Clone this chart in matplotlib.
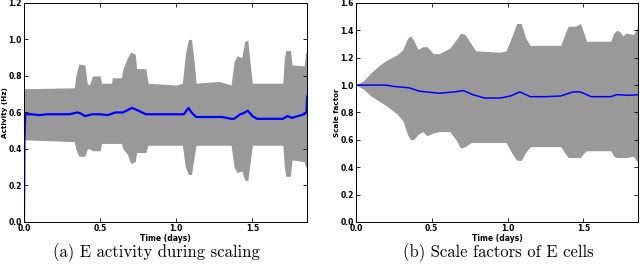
import matplotlib
matplotlib.use("Agg")
import matplotlib.pyplot as plt

# ---- Panel (a): E activity ----
a_env_t = [0.0, 0.33, 0.34, 0.36, 0.40, 0.415, 0.43, 0.45, 0.50, 0.51, 0.575, 0.58, 0.64, 0.65, 0.68, 0.70, 0.73,
           0.74, 0.80, 0.815, 1.0, 1.04, 1.06, 1.08, 1.10, 1.12, 1.13, 1.28, 1.36, 1.38, 1.40, 1.43, 1.45, 1.47,
           1.49, 1.50, 1.70, 1.71, 1.72, 1.75, 1.76, 1.84, 1.85, 1.86]
a_upper = [0.73, 0.735, 0.80, 0.865, 0.86, 0.76, 0.75, 0.80, 0.80, 0.76, 0.76, 0.79, 0.79, 0.84, 0.90, 0.93, 0.92,
           0.84, 0.84, 0.76, 0.75, 0.76, 0.92, 1.00, 1.00, 0.86, 0.76, 0.77, 0.75, 0.88, 0.91, 0.90, 0.99, 0.995,
           0.83, 0.76, 0.76, 0.90, 0.94, 0.94, 0.86, 0.855, 0.93, 0.93]
a_lower = [0.45, 0.44, 0.40, 0.36, 0.36, 0.40, 0.40, 0.39, 0.39, 0.43, 0.43, 0.43, 0.43, 0.40, 0.37, 0.32, 0.33,
           0.38, 0.38, 0.42, 0.42, 0.42, 0.30, 0.26, 0.26, 0.37, 0.42, 0.42, 0.42, 0.30, 0.27, 0.28, 0.23, 0.225,
           0.36, 0.42, 0.42, 0.30, 0.25, 0.25, 0.34, 0.33, 0.30, 0.30]

a_mean_t = [0.0, 0.003, 0.008, 0.05, 0.10, 0.15, 0.20, 0.25, 0.30, 0.35, 0.37, 0.40, 0.45, 0.50, 0.55, 0.60, 0.65,
            0.71, 0.75, 0.80, 0.90, 1.00, 1.05, 1.08, 1.10, 1.13, 1.20, 1.30, 1.36, 1.38, 1.42, 1.44, 1.47, 1.50,
            1.53, 1.60, 1.70, 1.73, 1.76, 1.80, 1.84, 1.855, 1.86]
a_mean = [0.0, 0.45, 0.59, 0.59, 0.585, 0.59, 0.59, 0.59, 0.59, 0.60, 0.595, 0.58, 0.59, 0.59, 0.585, 0.60, 0.60,
          0.625, 0.61, 0.59, 0.59, 0.59, 0.59, 0.625, 0.60, 0.575, 0.575, 0.575, 0.565, 0.565, 0.59, 0.595, 0.61,
          0.58, 0.565, 0.565, 0.565, 0.58, 0.57, 0.58, 0.59, 0.60, 0.69]

# ---- Panel (b): Scale factors ----
b_env_t = [0.0, 0.05, 0.10, 0.15, 0.20, 0.27, 0.31, 0.34, 0.36, 0.38, 0.41, 0.44, 0.47, 0.51, 0.55, 0.62, 0.66,
           0.69, 0.72, 0.76, 0.79, 0.95, 0.99, 1.03, 1.06, 1.09, 1.12, 1.15, 1.35, 1.38, 1.40, 1.45, 1.48, 1.50,
           1.52, 1.68, 1.70, 1.72, 1.74, 1.76, 1.78, 1.83, 1.86]
b_upper = [1.0, 1.03, 1.09, 1.14, 1.18, 1.22, 1.26, 1.34, 1.36, 1.33, 1.26, 1.28, 1.28, 1.23, 1.23, 1.27, 1.33,
           1.38, 1.37, 1.30, 1.25, 1.24, 1.25, 1.36, 1.45, 1.45, 1.34, 1.29, 1.29, 1.38, 1.43, 1.43, 1.45, 1.39,
           1.32, 1.32, 1.38, 1.40, 1.39, 1.36, 1.38, 1.37, 1.43]
b_lower = [1.0, 0.97, 0.92, 0.885, 0.85, 0.79, 0.74, 0.64, 0.60, 0.60, 0.64, 0.66, 0.63, 0.65, 0.66, 0.66, 0.60,
           0.54, 0.55, 0.58, 0.58, 0.58, 0.58, 0.50, 0.45, 0.45, 0.51, 0.55, 0.55, 0.50, 0.47, 0.47, 0.47, 0.50,
           0.52, 0.52, 0.48, 0.47, 0.47, 0.47, 0.47, 0.48, 0.43]

b_mean_t = [0.0, 0.20, 0.25, 0.30, 0.35, 0.42, 0.55, 0.65, 0.71, 0.77, 0.85, 0.95, 1.02, 1.08, 1.15, 1.25, 1.35,
            1.43, 1.48, 1.55, 1.68, 1.72, 1.80, 1.86]
b_mean = [1.0, 1.0, 0.99, 0.985, 0.98, 0.955, 0.94, 0.95, 0.96, 0.93, 0.905, 0.905, 0.92, 0.95, 0.915, 0.915,
          0.92, 0.95, 0.95, 0.915, 0.915, 0.93, 0.925, 0.93]

a_yticks = [0.0, 0.2, 0.4, 0.6, 0.8, 1.0, 1.2]
b_yticks = [0.0, 0.2, 0.4, 0.6, 0.8, 1.0, 1.2, 1.4, 1.6]
x_ticks = [0.0, 0.5, 1.0, 1.5]

GRAY = "#999999"
BLUE = "#0000ff"

fig = plt.figure(figsize=(6.4, 2.68), dpi=100)
ax1 = fig.add_axes([0.0375, 0.172, 0.4425, 0.817])
ax2 = fig.add_axes([0.556, 0.172, 0.441, 0.817])


def style(ax, yticks, ylabel):
    ax.set_xlim(0, 1.86)
    ax.set_ylim(yticks[0], yticks[-1])
    ax.set_xticks(x_ticks)
    ax.set_yticks(yticks)
    ax.set_xticklabels([f"{v:.1f}" for v in x_ticks], fontsize=5.5, fontweight="bold")
    ax.set_yticklabels([f"{v:.1f}" for v in yticks], fontsize=5.5, fontweight="bold")
    ax.tick_params(direction="in", length=3, width=0.6, top=True, right=True, pad=1.5)
    ax.set_xlabel("Time (days)", fontsize=5.5, fontweight="bold", labelpad=0.5)
    ax.set_ylabel(ylabel, fontsize=5.2, fontweight="bold", labelpad=0.5)
    for s in ax.spines.values():
        s.set_linewidth(0.7)


ax1.fill_between(a_env_t, a_lower, a_upper, color=GRAY, linewidth=0)
ax1.plot(a_mean_t, a_mean, color=BLUE, linewidth=1.6)
style(ax1, a_yticks, "Activity (Hz)")

ax2.fill_between(b_env_t, b_lower, b_upper, color=GRAY, linewidth=0)
ax2.plot(b_mean_t, b_mean, color=BLUE, linewidth=1.1)
style(ax2, b_yticks, "Scale factor")

fig.text(0.244, 0.058, "(a) E activity during scaling", family="cmr10", fontsize=12, ha="center", va="center")
fig.text(0.778, 0.058, "(b) Scale factors of E cells", family="cmr10", fontsize=12, ha="center", va="center")

fig.savefig("out.png", dpi=100)
